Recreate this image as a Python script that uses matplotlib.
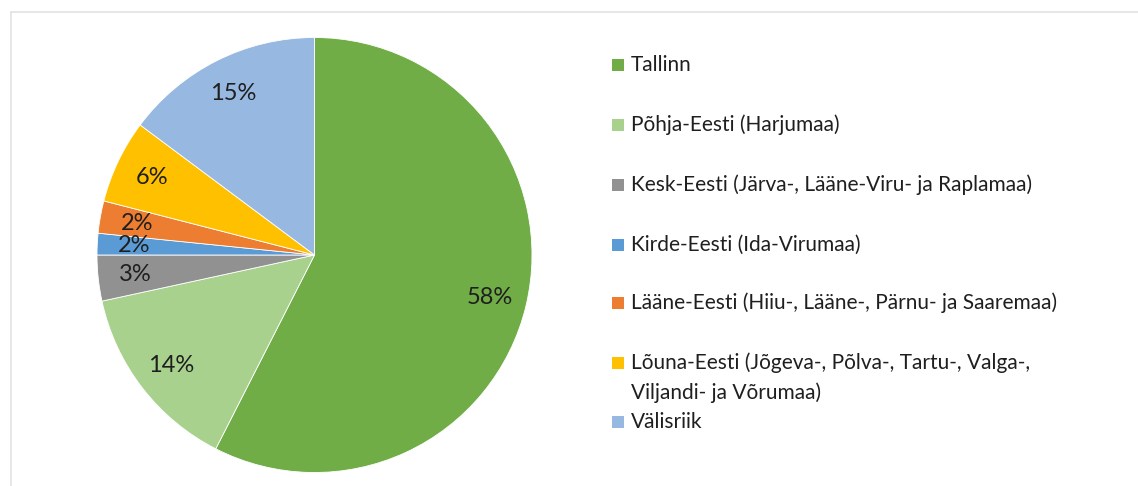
import matplotlib
matplotlib.use("Agg")
import matplotlib.pyplot as plt
from matplotlib.lines import Line2D
from matplotlib.patches import Rectangle

plt.rcParams["font.family"] = ["Lato", "DejaVu Sans"]

regions = [
    "Tallinn",
    "Põhja-Eesti (Harjumaa)",
    "Kesk-Eesti (Järva-, Lääne-Viru- ja Raplamaa)",
    "Kirde-Eesti (Ida-Virumaa)",
    "Lääne-Eesti (Hiiu-, Lääne-, Pärnu- ja Saaremaa)",
    "Lõuna-Eesti (Jõgeva-, Põlva-, Tartu-, Valga-,\nViljandi- ja Võrumaa)",
    "Välisriik",
]
shares = [57.5, 14.1, 3.4, 1.6, 2.4, 6.2, 14.8]
colors = ["#70AD47", "#A9D18E", "#919191", "#5B9BD5", "#ED7D31", "#FFC000", "#97B8E0"]

W, H = 1138, 486
fig = plt.figure(figsize=(W / 100, H / 100), dpi=100)

# light frame (only top and left edges visible in the crop)
fig.add_artist(Line2D([11 / W, 11 / W], [0, 1 - 12 / H], color="#e3e3e3", lw=1.2))
fig.add_artist(Line2D([11 / W, 1], [1 - 12 / H, 1 - 12 / H], color="#e3e3e3", lw=1.2))

cx, cy, r = 314.5, 255, 217.5
ax = fig.add_axes([(cx - r) / W, (H - cy - r) / H, 2 * r / W, 2 * r / H])
wedges, texts, autotexts = ax.pie(
    shares, colors=colors, startangle=90, counterclock=False,
    autopct="%.0f%%", pctdistance=0.83,
    wedgeprops=dict(edgecolor="white", linewidth=0.6),
    textprops=dict(fontsize=17, color="#1f1f1f"),
)
ax.set_xlim(-1, 1)
ax.set_ylim(-1, 1)
ax.set_aspect("auto")
ax.axis("off")

# legend drawn by hand to keep the uneven Excel spacing
leg_y = [65, 125, 185, 245, 303, 363, 422]
line_h = 30
for lab, col, y in zip(regions, colors, leg_y):
    fig.add_artist(Rectangle((612 / W, 1 - (y + 6) / H), 12 / W, 12 / H,
                             facecolor=col, edgecolor="none"))
    for k, part in enumerate(lab.split("\n")):
        fig.text(631 / W, 1 - (y + k * line_h) / H, part, fontsize=15,
                 color="#1f1f1f", va="center", ha="left")

fig.savefig("out.png", dpi=100)
